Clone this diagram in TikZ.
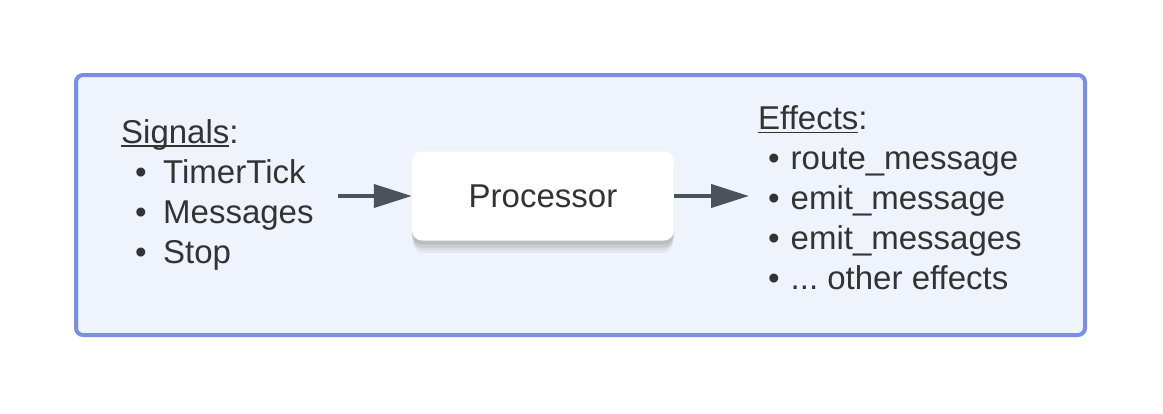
\documentclass[tikz,border=0pt]{standalone}
\usepackage{fontspec}
\setmainfont{Liberation Sans}
\usepackage{tikz}
\usetikzlibrary{arrows.meta}
\usetikzlibrary{shadows}
\usepackage{color}
\frenchspacing

\definecolor{framecol}{RGB}{123,142,230}
\definecolor{framefill}{RGB}{239,243,252}
\definecolor{arrowcol}{RGB}{74,82,92}
\definecolor{textcol}{RGB}{51,51,51}

\newcommand{\ulword}[1]{\setbox0\hbox{#1}\rlap{\rule[-3.5pt]{\wd0}{1.6pt}}#1}
\newcommand{\sigitem}[1]{\\\hspace*{14pt}\makebox[28pt][l]{\textbullet}#1}
\newcommand{\effitem}[1]{\\\hspace*{10pt}\makebox[22.5pt][l]{\textbullet}#1}

\begin{document}
\begin{tikzpicture}[x=1pt, y=-1pt,
		listtext/.style={inner sep=0pt, anchor=north west, align=left, text=textcol, font=\fontsize{33}{40}\selectfont},
		flow/.style={draw=arrowcol, line width=4pt, -{Triangle[length=38pt, width=23pt]}}]
		\useasboundingbox (0,0) rectangle (1163,413);
		
		\node (frame) [rectangle, draw=framecol, fill=framefill, line width=4pt, rounded corners=7pt, minimum width=1009pt, minimum height=260pt] at (580.5,205) {};
		
		\node (proc) [rectangle, fill=white, rounded corners=10pt, minimum width=262pt, minimum height=89pt, text=textcol, font=\fontsize{33}{40}\selectfont,
			drop shadow={opacity=0.10, shadow xshift=0pt, shadow yshift=-13pt, shadow scale=0.99},
			drop shadow={opacity=0.12, shadow xshift=0pt, shadow yshift=-10pt, shadow scale=0.99},
			drop shadow={opacity=0.15, shadow xshift=0pt, shadow yshift=-7pt},
			drop shadow={opacity=0.2, shadow xshift=0pt, shadow yshift=-4pt}] at (543,196) {Processor};
		
		\node (signals) [listtext, text width=217pt] at (121,119) {\ulword{Signals}:\sigitem{TimerTick}\sigitem{Messages}\sigitem{Stop}};
		
		\node (effects) [listtext] at (758,105.7) {\ulword{Effects}:\effitem{route\_message}\effitem{emit\_message}\effitem{emit\_messages}\effitem{... other effects}};
		
		\draw [flow] (signals.east |- proc.west) to (proc.west);
		\draw [flow, shorten >=9pt] (proc.east) to (effects.west |- proc.east);
		
		\end{tikzpicture}
\end{document}
